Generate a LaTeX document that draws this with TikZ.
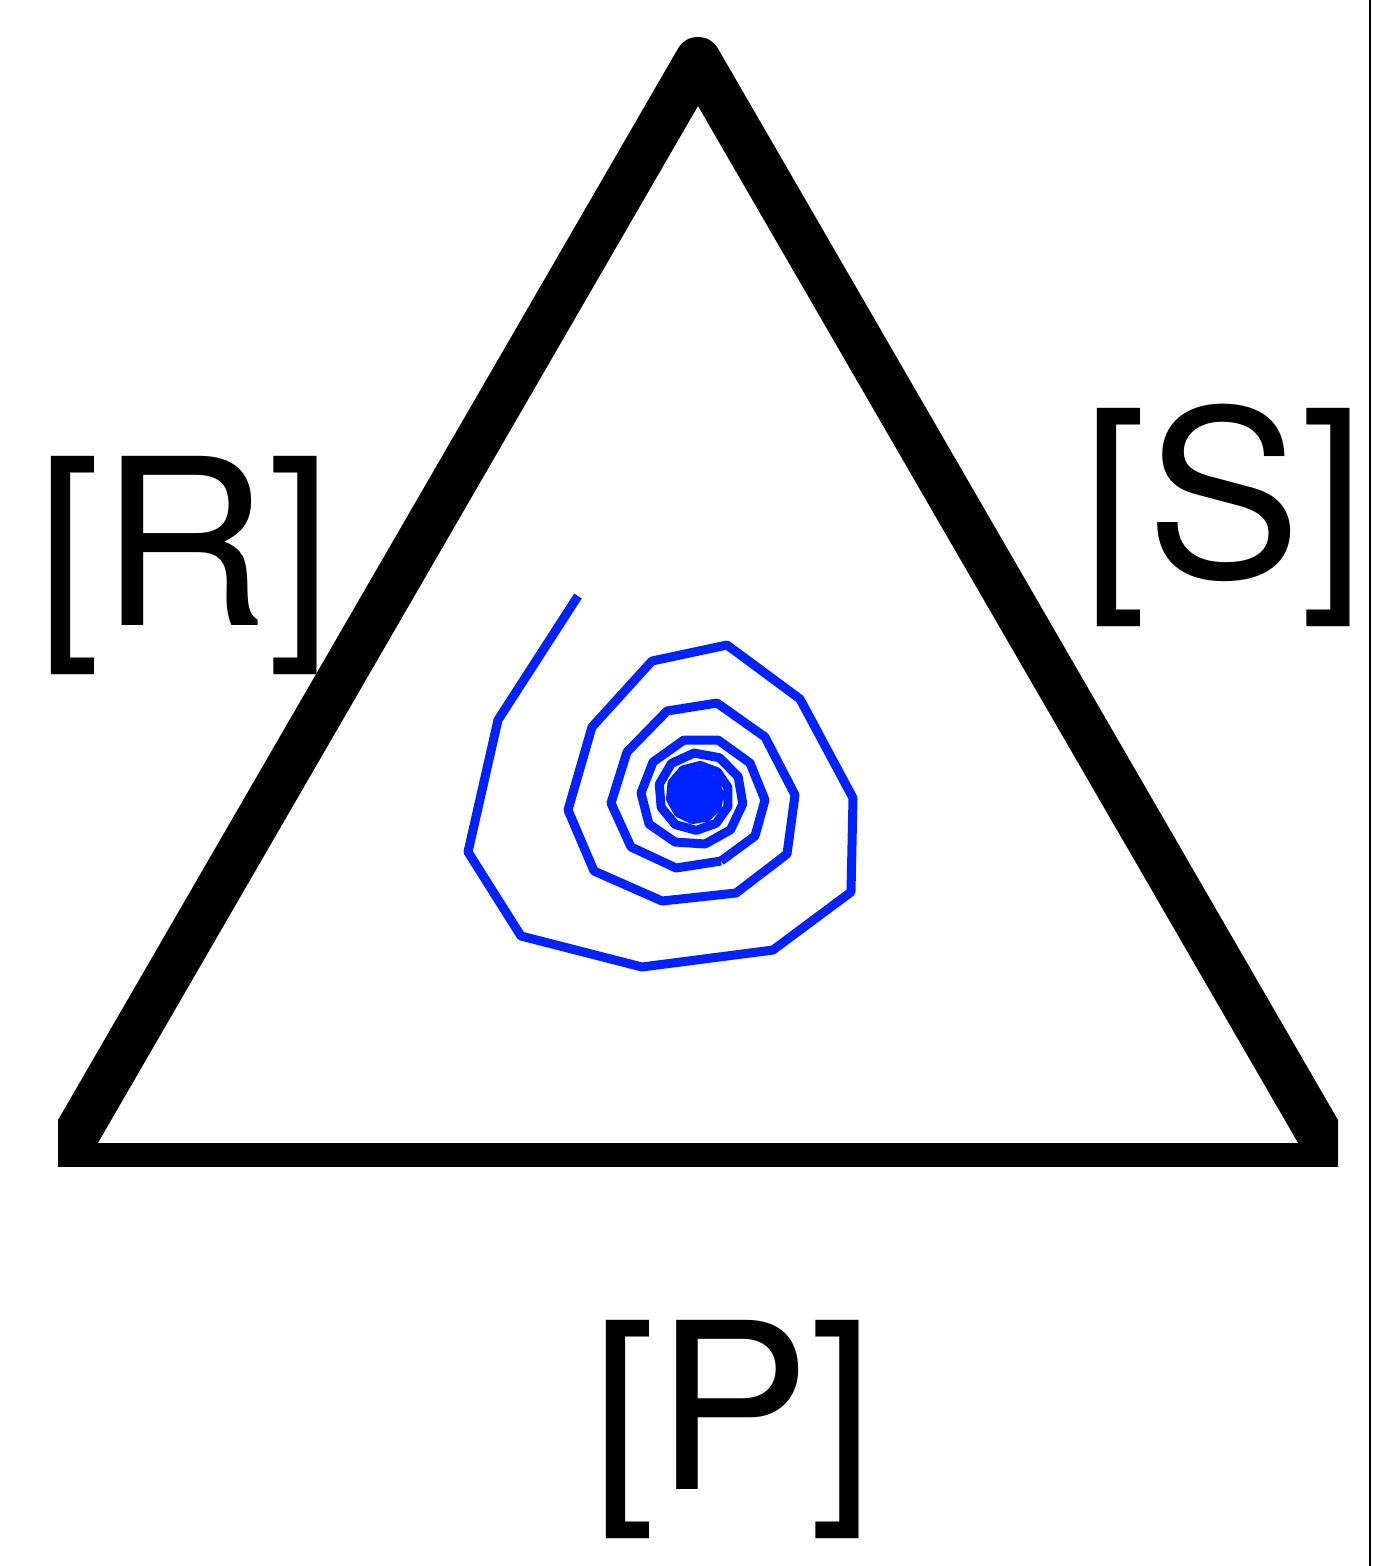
\documentclass[tikz,border=0pt]{standalone}
\usepackage{fontspec}
\setmainfont{TeX Gyre Heros}
\usepackage{xcolor}
\usepackage{tikz}
\definecolor{orbitblue}{RGB}{0,34,255}

\begin{document}
\begin{tikzpicture}[x=0.01cm, y=-0.01cm,
    simplex/.style={line width=0.46cm, line join=round},
    orbit/.style={orbitblue, line width=0.09cm, line join=round},
    vlabel/.style={font=\fontsize{66pt}{80pt}\selectfont, inner sep=0pt, anchor=base}]
  \useasboundingbox (0,0) rectangle (1372,1566);
  \coordinate (apex) at (698,60);
  \coordinate (left) at (58,1166);
  \coordinate (right) at (1338,1166);
  \begin{scope}
    \clip (58,0) rectangle (1338,1166);
    \draw[simplex] (left) -- (apex) -- (right) -- cycle;
  \end{scope}
  \draw[line width=0.015cm] (1370,0) -- (1370,1566);
  \node[vlabel] (R) at (184.5,625) {[R]};
  \node[vlabel] (S) at (1224,577) {[S]};
  \node[vlabel] (P) at (733,1489) {[P]};
  % trajectory
  \draw[orbit] plot coordinates {(578,596) (498,720) (468,852) (521,936) (642,967)
    (773,950) (851,892) (853,798) (800,699) (727,645) (652,661) (592,727)
    (568,810) (594,871) (662,901) (736,893) (787,854) (795,795) (765,737)
    (717,703) (667,711) (627,752) (611,803) (631,847) (676,868) (721,861)};
  \draw[orbit] plot coordinates {(721,861) (755,836) (765,800) (750,763) (718,740)
    (684,740) (653,762) (641,793) (649,824) (675,842) (705,844)}
    -- plot[domain=1:90, samples=90, variable=\k]
    ({697+50*0.966^\k*cos(279+35*\k)}, {795-50*0.966^\k*sin(279+35*\k)});
\end{tikzpicture}
\end{document}
